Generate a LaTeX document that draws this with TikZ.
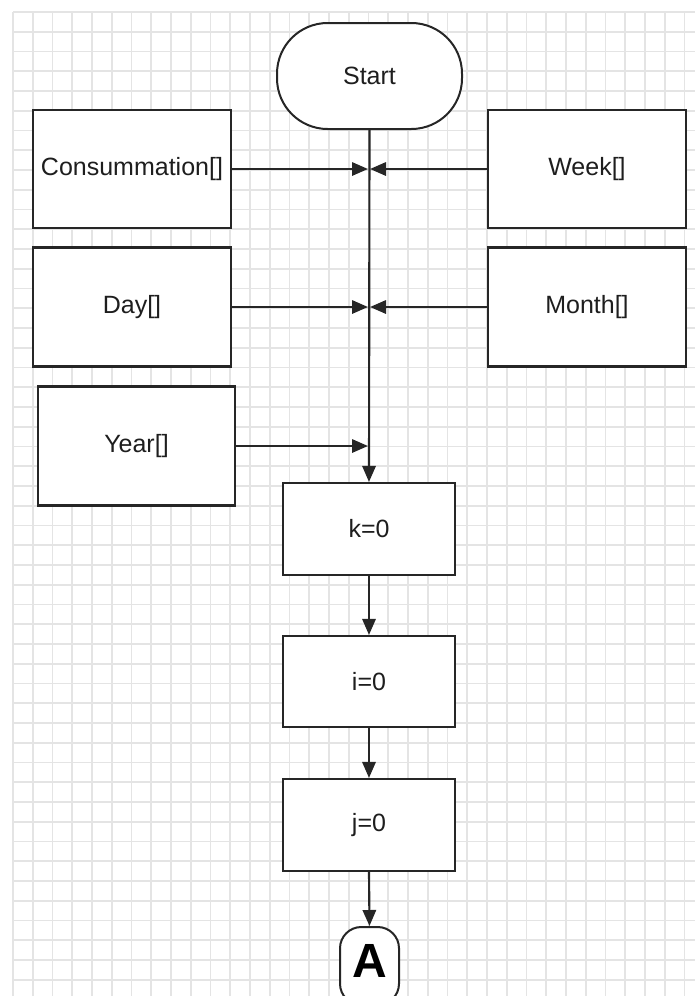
\documentclass[tikz,border=0pt]{standalone}
\usepackage{fontspec}
\setmainfont{Liberation Sans}
\usetikzlibrary{arrows.meta}
\definecolor{gridc}{HTML}{E4E4E4}
\definecolor{linec}{HTML}{262626}
\definecolor{textc}{HTML}{1E1E1E}
\begin{document}
\begin{tikzpicture}[x=0.75pt,y=-0.75pt,
  lbl/.style={font=\fontsize{18.75}{22}\selectfont,text=textc},
  box/.style={lbl,draw=linec,line width=1.6pt,fill=white,inner sep=0pt,
    minimum width=148.5pt,minimum height=88.5pt},
  procbox/.style={lbl,draw=linec,line width=1.6pt,fill=white,inner sep=0pt,
    minimum width=129pt,minimum height=69pt},
  term/.style={lbl,draw=linec,line width=1.5pt,fill=white,inner sep=0pt,
    minimum width=138.75pt,minimum height=79.5pt,rounded corners=38pt},
  conn/.style={draw=linec,line width=1.5pt,fill=white,inner sep=0pt,
    minimum width=44.25pt,minimum height=58.5pt,rounded corners=16pt},
  arr/.style={draw=linec,line width=1.6pt,-{Triangle[length=12pt,width=10pt]}},
  gridline/.style={draw=gridc,line width=1.4pt}
]
\useasboundingbox (0,0) rectangle (695,996);
\clip (0,0) rectangle (695,996);
% grid
\foreach \k in {0,...,34} {\draw[gridline] (13+19.75*\k,12) -- (13+19.75*\k,996);}
\foreach \k in {0,...,50} {\draw[gridline] (13,12+19.75*\k) -- (695,12+19.75*\k);}

% nodes
\node[term] (start) at (369.5,76) {Start};
\node[box] (cons) at (132,169) {Consummation[]};
\node[box] (week) at (587,169) {Week[]};
\node[box,minimum height=89.25pt] (day) at (132,307) {Day[]};
\node[box,minimum height=89.25pt] (month) at (587,307) {Month[]};
\node[box,minimum width=147.75pt,minimum height=89.25pt] (year) at (136.5,446) {Year[]};
\node[procbox] (k) at (369,529) {k=0};
\node[procbox,minimum height=68.25pt] (i) at (369,681.5) {i=0};
\node[procbox] (j) at (369,825) {j=0};
\node[conn] (A) at (369.5,966) {};
\node[font=\bfseries\fontsize{36}{40}\selectfont,text=black] (Alabel) at (369.5,961) {A};

% junction points on main line
\coordinate (c1l) at (368,169);
\coordinate (c1r) at (370,169);
\coordinate (c2l) at (368,307);
\coordinate (c2r) at (370,307);
\coordinate (c3l) at (368,446);

% main line
\draw[arr] (start.south) -- (k.north);
\draw[arr] (k.south) -- (i.north);
\draw[arr] (i.south) -- (j.north);
\draw[arr] (j.south) -- (A.north);

% side inputs
\draw[arr] (cons.east) -- (c1l);
\draw[arr] (week.west) -- (c1r);
\draw[arr] (day.east) -- (c2l);
\draw[arr] (month.west) -- (c2r);
\draw[arr] (year.east) -- (c3l);
\end{tikzpicture}
\end{document}
